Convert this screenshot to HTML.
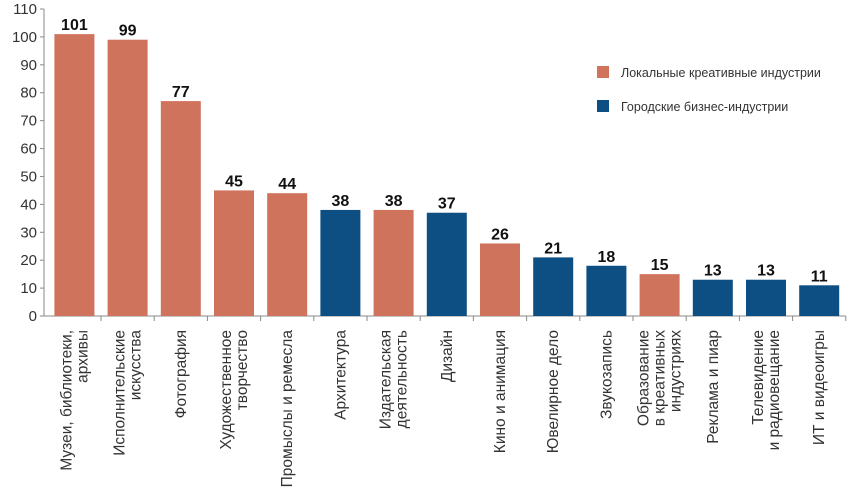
<!DOCTYPE html>
<html><head><meta charset="utf-8"><style>
body{margin:0;background:#fff;width:849px;height:498px;overflow:hidden}
svg{font-family:"Liberation Sans",sans-serif}
</style></head><body>
<svg id="chart" width="849" height="498" viewBox="0 0 849 498" xmlns="http://www.w3.org/2000/svg">
<g id="axes"></g><g id="bars"></g><g id="labels"></g>
<g>
<rect x="597" y="66" width="12" height="12" fill="#d0735d"/>
<text x="621" y="77" font-size="12.5" fill="#333">Локальные креативные индустрии</text>
<rect x="597" y="100" width="12" height="12" fill="#0d4f83"/>
<text x="621" y="111" font-size="12.5" fill="#333">Городские бизнес-индустрии</text>
</g>
</svg>
<script>
const categories=[["Музеи, библиотеки,","архивы"],["Исполнительские","искусства"],["Фотография"],["Художественное","творчество"],["Промыслы и ремесла"],["Архитектура"],["Издательская","деятельность"],["Дизайн"],["Кино и анимация"],["Ювелирное дело"],["Звукозапись"],["Образование","в креативных","индустриях"],["Реклама и пиар"],["Телевидение","и радиовещание"],["ИТ и видеоигры"]];
const values=[101,99,77,45,44,38,38,37,26,21,18,15,13,13,11];
const groups=["local","local","local","local","local","city","local","city","local","city","city","local","city","city","city"];
const yTicks=[0,10,20,30,40,50,60,70,80,90,100,110];
const NS="http://www.w3.org/2000/svg";
const x0=47.8,band=53.2,y0=316,yTop=9,yMax=110;
const y=v=>y0-(v/yMax)*(y0-yTop);
const xb=i=>x0+i*band;
function mk(t,a,p){const e=document.createElementNS(NS,t);for(const k in a)e.setAttribute(k,a[k]);p.appendChild(e);return e;}
const axes=document.getElementById('axes'),bars=document.getElementById('bars'),labels=document.getElementById('labels');
const ya=mk('line',{x1:44,y1:y(0),x2:44,y2:y(yMax),stroke:'#888','stroke-width':1},axes);


const xa=mk('line',{x1:40,y1:y0,x2:x0+categories.length*band,y2:y0,stroke:'#888','stroke-width':1},axes);


yTicks.forEach(t=>{
 mk('line',{x1:40,y1:y(t),x2:44,y2:y(t),stroke:'#888'},axes);
 const tx=mk('text',{x:37,y:y(t)+5,'text-anchor':'end','font-size':15,fill:'#333'},axes);
 tx.textContent=t;
 
 
});
categories.forEach((c,i)=>{
 mk('line',{x1:xb(i+1),y1:y0,x2:xb(i+1),y2:y0+5,stroke:'#888'},axes);
 const cx=xb(i)+band/2;
 const r=mk('rect',{x:cx-20,y:y(values[i]),width:40,height:y0-y(values[i]),fill:groups[i]==='local'?'#d0735d':'#0d4f83'},bars);
 
 
 const v=mk('text',{x:cx,y:y(values[i])-4,'text-anchor':'middle','font-size':16,'font-weight':'bold',fill:'#111','font-family':'"Liberation Sans Narrow","Liberation Sans",sans-serif'},labels);
 v.textContent=values[i];
 
 
 const n=c.length,lh=16;
 c.forEach((line,j)=>{
  const lx=cx+(j-(n-1)/2)*lh+5;
  const t=mk('text',{x:lx,y:330,transform:`rotate(-90 ${lx} 330)`,'text-anchor':'end','font-size':15.5,fill:'#333'},labels);
  t.textContent=line;
  
  
 });
});
</script>
</body></html>
